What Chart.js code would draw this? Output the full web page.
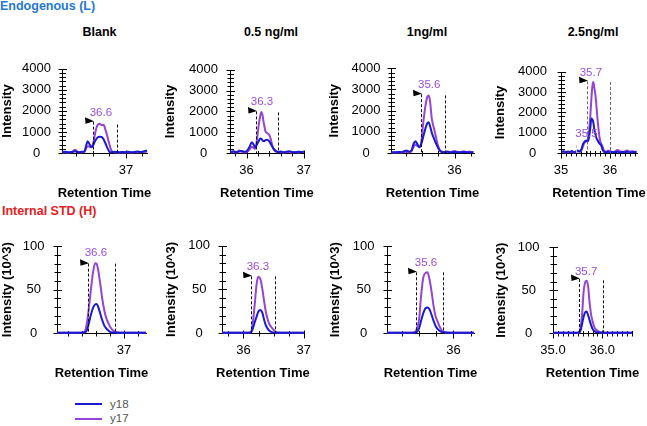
<!DOCTYPE html>
<html><head><meta charset="utf-8">
<script src="https://cdn.jsdelivr.net/npm/chart.js@4.4.1/dist/chart.umd.min.js"></script>
<style>
body{margin:0;width:647px;height:426px;position:relative;background:#fff;overflow:hidden;font-family:"Liberation Sans",Arial,sans-serif;}
canvas{position:absolute;}
.t{position:absolute;white-space:nowrap;font-weight:bold;line-height:14px;}
.ptitle{position:absolute;white-space:nowrap;font-weight:bold;font-size:12.5px;line-height:14px;color:#000;transform:translateX(-50%);}
.lg{position:absolute;height:0;border-top:2px solid;}
.lgt{position:absolute;font-size:11.5px;color:#555;line-height:13px;}
</style></head><body>
<div class="t" style="left:0;top:-1px;font-size:12.5px;color:#1f78d2">Endogenous (L)</div>
<div class="t" style="left:2px;top:204px;font-size:12.5px;color:#e4201e">Internal STD (H)</div>
<div id="titles"></div>
<div class="lg" style="left:75px;top:403px;width:27px;border-color:#1a1ad2"></div>
<div class="lg" style="left:75px;top:418px;width:27px;border-color:#9444d6"></div>
<div class="lgt" style="left:110px;top:398px">y18</div>
<div class="lgt" style="left:110px;top:412px">y17</div>
<script>
// ---------- data ----------
const concentrations = ["Blank", "0.5 ng/ml", "1ng/ml", "2.5ng/ml"];
const seriesNames = ["y18", "y17"];
const yTicksL = [0, 1000, 2000, 3000, 4000];
const yTicksH = [0, 50, 100];

// Endogenous (L), intensity
const rtBlankL = [36.03,36.08,36.13,36.18,36.23,36.28,36.33,36.37,36.40,36.42,36.45,36.48,36.51,36.54,36.57,36.60,36.63,36.66,36.69,36.72,36.75,36.78,36.83,36.88,36.93,36.98,37.03,37.08,37.13,37.18,37.23,37.28,37.32];
const y18BlankL = [40,60,30,50,80,40,60,70,400,560,400,270,420,620,740,770,760,650,450,230,60,30,60,30,50,40,60,30,50,70,50,90,120];
const y17BlankL = [20,30,20,40,150,30,40,50,250,320,300,300,550,1050,1330,1390,1330,1340,1100,770,400,120,30,20,30,20,30,20,30,40,30,50,60];

const rt05L = [35.72,35.77,35.82,35.87,35.92,35.97,36.02,36.06,36.09,36.12,36.15,36.18,36.21,36.24,36.26,36.28,36.30,36.33,36.36,36.39,36.42,36.45,36.48,36.52,36.56,36.60,36.65,36.70,36.75,36.80,36.85,36.90,36.95,37.0];
const y1805L = [50,80,40,70,100,60,150,350,520,420,270,400,560,700,680,600,560,620,640,580,450,300,180,80,50,70,40,60,80,50,40,60,50,70];
const y1705L = [30,50,30,120,50,40,80,200,300,250,200,600,1300,1800,1970,1800,1450,1050,950,900,700,350,150,60,40,50,30,40,50,30,40,30,40,50];

const rt1L = [35.03,35.08,35.13,35.18,35.22,35.26,35.30,35.34,35.37,35.40,35.43,35.46,35.49,35.52,35.55,35.58,35.60,35.62,35.65,35.68,35.71,35.74,35.77,35.80,35.84,35.89,35.94,35.99,36.04,36.09,36.14,36.19,36.24,36.29];
const y181L = [40,30,50,40,80,120,60,150,450,560,400,270,450,800,1150,1400,1450,1300,950,700,480,280,120,50,40,60,30,50,40,30,50,40,30,40];
const y171L = [20,20,30,20,50,60,30,100,300,400,320,300,600,1500,2200,2650,2720,2500,1600,1200,800,400,150,80,40,70,30,100,60,40,80,50,60,40];

const rt25L = [35.02,35.06,35.10,35.14,35.18,35.22,35.26,35.30,35.34,35.38,35.42,35.45,35.48,35.51,35.54,35.57,35.60,35.62,35.64,35.66,35.68,35.70,35.72,35.74,35.76,35.79,35.82,35.85,35.88,35.92,35.96,36.00,36.05,36.10,36.15,36.20,36.25,36.30,36.35,36.40,36.45,36.50,36.54];
const y1825L = [60,90,40,80,50,100,30,70,120,80,200,450,560,600,560,750,1300,1700,1650,1500,1150,950,750,650,560,450,380,150,50,40,60,30,50,40,60,30,50,40,60,30,50,40,50];
const y1725L = [40,60,30,50,40,80,20,50,80,60,150,350,500,600,650,1000,1900,2700,3300,3500,3200,2900,2400,1800,1300,700,450,300,100,60,120,90,50,80,150,90,60,80,120,70,90,60,80];

// Internal STD (H), intensity in 10^3
const rtBlankH = [36.05,36.15,36.25,36.35,36.40,36.44,36.47,36.50,36.53,36.56,36.59,36.61,36.63,36.66,36.69,36.72,36.75,36.78,36.81,36.85,36.90,37.0,37.1,37.2,37.31];
const y18BlankH = [0.3,0.3,0.3,0.3,0.4,0.8,2.5,11,21,29,33,33.5,31,23,15,8.5,5,2.5,1,0.5,0.4,0.3,0.3,0.3,0.3];
const y17BlankH = [0.3,0.3,0.3,0.4,0.6,1.5,10,28,50,70,80.5,80,74,58,40,26,16.5,11,6,2.5,0.8,0.4,0.3,0.3,0.3];

const rt05H = [35.65,35.75,35.85,35.95,36.05,36.10,36.13,36.16,36.19,36.22,36.25,36.28,36.31,36.34,36.37,36.40,36.43,36.46,36.49,36.53,36.58,36.65,36.75,36.85,37.0];
const y1805H = [0.3,0.3,0.3,0.3,0.3,0.4,1,6,13,19,25,26.5,24,16,9,5,2.5,1.2,0.6,0.4,0.3,0.3,0.3,0.3,0.3];
const y1705H = [0.3,0.3,0.3,0.3,0.3,0.5,2,14,35,57,64.5,62,52,38,25,16,10,7,4.5,1.5,0.5,0.3,0.3,0.3,0.3];

const rt1H = [35.03,35.13,35.23,35.33,35.40,35.44,35.47,35.50,35.53,35.56,35.59,35.62,35.65,35.68,35.71,35.74,35.77,35.80,35.83,35.87,35.92,36.0,36.1,36.2,36.3];
const y181H = [0.3,0.3,0.3,0.3,0.3,0.5,1.5,6,15,23,28.5,29.5,27.5,21,14,8,4.5,2.5,1,0.5,0.3,0.3,0.3,0.3,0.3];
const y171H = [0.3,0.3,0.3,0.3,0.3,1,6,17,45,64,69,70,62,48,31,19,13,7,3,1.2,0.5,0.3,0.3,0.3,0.3];

const rt25H = [35.0,35.1,35.2,35.3,35.4,35.48,35.53,35.56,35.59,35.62,35.65,35.68,35.71,35.74,35.77,35.80,35.84,35.88,35.93,36.0,36.1,36.2,36.3,36.4,36.5,36.6];
const y1825H = [0.3,0.3,0.3,0.3,0.3,0.3,0.6,3,11,19,24,25,21,15,9.5,5,2,1,0.5,0.3,0.3,0.3,0.3,0.3,0.3,0.3];
const y1725H = [0.3,0.3,0.3,0.3,0.3,0.3,0.8,7,22,48,59,61,55,36,22,14,6.5,3.5,1.5,0.4,0.3,0.3,0.3,0.3,0.3,0.3];

// x tick labels per panel
const xTicksBlankL = [37], xTicks05L = [36, 37], xTicks1L = [36], xTicks25L = [35, 36];
const xTicksBlankH = [37], xTicks05H = [36, 37], xTicks1H = [36], xTicks25H = [35, 36];

// peak apex labels and integration boundaries (per panel, L row then H row)
const peakText  = ["36.6","36.3","35.6","35.7","36.6","36.3","35.6","35.7"];
const peakTextX = [36.62, 36.27, 35.61, 35.61, 36.60, 36.24, 35.60, 35.67];
const peakTextY = [1890, 2450, 3210, 3960, 93, 76, 81, 71.7];
const bndStart    = [36.50, 36.16, 35.48, 35.53, 36.49, 36.13, 35.46, 35.53];
const bndEnd      = [36.87, 36.55, 35.86, 36.00, 36.87, 36.52, 35.85, 36.02];
const bndStartTop = [1490, 2000, 2780, 3530, 80, 65, 70, 63];
const bndEndTop   = [1350, 1950, 2720, 3500, 80, 65, 70, 61.5];
const extraText = "35.5", extraTextX = 35.52, extraTextY = 920;
const minorPeakX = 35.30, minorPeakTop = 400;

// ---------- layout / style ----------
const FONT = '"Liberation Sans", Arial, sans-serif';
Chart.defaults.font.family = FONT;
const BLUE = '#1a1ad2', PURPLE = '#9444d6', LABEL = '#9a4fdc';

const panels = [
  {rt: rtBlankL, a: y18BlankL, b: y17BlankL, H:false, xmin:36.03, xmax:37.32, xt:xTicksBlankL, xMinor:0.25, box:[0,50,157,151], yW:62, yPad:11, dec:0},
  {rt: rt05L, a: y1805L, b: y1705L, H:false, xmin:35.71, xmax:37.0, xt:xTicks05L, xMinor:0.2, box:[163,50,158,151], yW:67, yPad:12, dec:0},
  {rt: rt1L, a: y181L, b: y171L, H:false, xmin:35.02, xmax:36.3, xt:xTicks1L, xMinor:0.25, box:[327,50,157,151], yW:64, yPad:10.5, dec:0},
  {rt: rt25L, a: y1825L, b: y1725L, H:false, xmin:35.0, xmax:36.55, xt:xTicks25L, xMinor:0.1, box:[493,50,154,151], yW:68, yPad:14, dec:0},
  {rt: rtBlankH, a: y18BlankH, b: y17BlankH, H:true, xmin:36.05, xmax:37.31, xt:xTicksBlankH, xMinor:0.2, box:[0,226,156,155], yW:57, yPad:12.5, dec:0},
  {rt: rt05H, a: y1805H, b: y1705H, H:true, xmin:35.645, xmax:37.0, xt:xTicks05H, xMinor:0.25, box:[164,226,157,155], yW:58, yPad:12, dec:0},
  {rt: rt1H, a: y181H, b: y171H, H:true, xmin:35.03, xmax:36.3, xt:xTicks1H, xMinor:0.25, box:[328,226,156,155], yW:59, yPad:12.5, dec:0},
  {rt: rt25H, a: y1825H, b: y1725H, H:true, xmin:35.0, xmax:36.6, xt:xTicks25H, xMinor:0.1, box:[494,226,148,155], yW:59, yPad:13.5, dec:1}
];
const titleCenters = [99.5, 271, 427, 593];

const titlesDiv = document.getElementById('titles');
concentrations.forEach((c, i) => {
  const d = document.createElement('div');
  d.className = 'ptitle';
  d.style.left = titleCenters[i] + 'px';
  d.style.top = '25px';
  d.textContent = c;
  titlesDiv.appendChild(d);
});

const decor = {
  id: 'decor',
  beforeDatasetsDraw(chart, args, o) {
    const {ctx, chartArea: a, scales: {x, y}} = chart;
    ctx.save();
    ctx.strokeStyle = '#000'; ctx.lineWidth = 1;
    ctx.beginPath();
    const ax = Math.round(a.left) + 0.5, ay = Math.round(a.bottom) + 0.5;
    ctx.moveTo(ax, Math.round(a.top)); ctx.lineTo(ax, ay);
    ctx.moveTo(ax, ay); ctx.lineTo(Math.round(a.right) + 1, ay);
    const ny = Math.round(y.max / o.yMinor);
    for (let i = 0; i <= ny; i++) {
      const v = i * o.yMinor;
      const py = Math.round(y.getPixelForValue(v)) + 0.5;
      const major = o.yMajor.some(m => Math.abs(m - v) < 1e-6);
      const L = major ? 4 : 3;
      ctx.moveTo(ax - L, py); ctx.lineTo(ax + L + 0.5, py);
    }
    const i0 = Math.ceil(x.min / o.xMinor - 1e-6), i1 = Math.floor(x.max / o.xMinor + 1e-6);
    for (let i = i0; i <= i1; i++) {
      const v = i * o.xMinor;
      const px = Math.round(x.getPixelForValue(v)) + 0.5;
      const major = o.xMajor.some(m => Math.abs(m - v) < 1e-6);
      ctx.moveTo(px, ay - (major ? 3 : 2.5)); ctx.lineTo(px, ay + (major ? 5 : 3));
    }
    ctx.stroke();
    // axis titles (drawn without width compression)
    ctx.fillStyle = '#000';
    ctx.font = 'bold 13px ' + FONT;
    ctx.textAlign = 'center'; ctx.textBaseline = 'middle';
    ctx.fillText(o.xTitle, (a.left + a.right) / 2, chart.height - 7.8);
    ctx.translate(7.8, (a.top + a.bottom) / 2);
    ctx.rotate(-Math.PI / 2);
    ctx.fillText(o.yTitle, 0, 0);
    ctx.restore();
  },
  afterDatasetsDraw(chart, args, o) {
    const {ctx, chartArea: a, scales: {x, y}} = chart;
    const k = o.k;
    ctx.save();
    const ay = a.bottom;
    const dash = (xv, top, col) => {
      const px = Math.round(x.getPixelForValue(xv)) + 0.5;
      ctx.strokeStyle = col; ctx.lineWidth = 1; ctx.setLineDash([3, 2]);
      ctx.beginPath(); ctx.moveTo(px, y.getPixelForValue(top)); ctx.lineTo(px, ay); ctx.stroke();
      return px;
    };
    const dcol = o.gray ? '#6a6a6a' : '#111';
    if (o.extra) dash(minorPeakX, minorPeakTop, '#c8c8c8');
    const lx = dash(bndStart[k], bndStartTop[k], dcol);
    dash(bndEnd[k], bndEndTop[k], dcol);
    ctx.setLineDash([]);
    const ty = y.getPixelForValue(bndStartTop[k]);
    ctx.fillStyle = '#000';
    ctx.beginPath();
    ctx.moveTo(lx - 8.5, ty - 4.5); ctx.lineTo(lx + 0.5, ty - 0.5); ctx.lineTo(lx - 8, ty + 2); ctx.closePath(); ctx.fill();
    ctx.font = '11.5px ' + FONT;
    ctx.fillStyle = LABEL; ctx.textAlign = 'center'; ctx.textBaseline = 'middle';
    ctx.fillText(peakText[k], x.getPixelForValue(peakTextX[k]), y.getPixelForValue(peakTextY[k]));
    if (o.extra) ctx.fillText(extraText, x.getPixelForValue(extraTextX), y.getPixelForValue(extraTextY));
    ctx.restore();
  }
};

panels.forEach((p, k) => {
  const [L, T, W, Hh] = p.box;
  const cv = document.createElement('canvas');
  cv.width = W; cv.height = Hh;
  cv.style.left = L + 'px'; cv.style.top = T + 'px';
  cv.style.width = W + 'px'; cv.style.height = Hh + 'px';
  document.body.appendChild(cv);
  const yMajor = p.H ? yTicksH : yTicksL;
  const xH = p.H ? (T + Hh - 333) : (T + Hh - 153);
  new Chart(cv, {
    type: 'line',
    data: {
      datasets: [
        {label: seriesNames[0], data: p.rt.map((v, i) => ({x: v, y: p.a[i]})), borderColor: BLUE, borderWidth: 2, pointRadius: 0, cubicInterpolationMode: 'monotone', clip: 4, fill: false},
        {label: seriesNames[1], data: p.rt.map((v, i) => ({x: v, y: p.b[i]})), borderColor: PURPLE, borderWidth: 2, pointRadius: 0, cubicInterpolationMode: 'monotone', clip: 4, fill: false}
      ]
    },
    options: {
      responsive: false, animation: false, devicePixelRatio: 1,
      layout: {padding: {left: 0, top: 10, right: 10, bottom: 0}},
      plugins: {
        legend: {display: false}, title: {display: false}, tooltip: {enabled: false},
        decor: {k: k, yMinor: p.H ? 10 : 200, yMajor: yMajor, xMinor: p.xMinor, xMajor: p.xt, gray: k === 3, extra: k === 3,
                xTitle: 'Retention Time', yTitle: p.H ? 'Intensity (10^3)' : 'Intensity'}
      },
      scales: {
        x: {
          type: 'linear', min: p.xmin, max: p.xmax,
          afterBuildTicks: s => { s.ticks = p.xt.map(v => ({value: v})); },
          afterFit: s => { s.height = xH; },
          grid: {display: false, drawTicks: false}, border: {display: false},
          ticks: {autoSkip: false, maxRotation: 0, padding: 10, color: '#000', font: {size: 13},
                  callback: v => p.dec ? Number(v).toFixed(1) : String(v)},
          title: {display: false}
        },
        y: {
          type: 'linear', min: 0, max: p.H ? 100 : 4000,
          afterBuildTicks: s => { s.ticks = yMajor.map(v => ({value: v})); },
          afterFit: s => { s.width = p.yW; },
          grid: {display: false, drawTicks: false}, border: {display: false},
          ticks: {crossAlign: 'center', padding: p.yPad, color: '#000', font: {size: 13}, callback: v => String(v)},
          title: {display: false}
        }
      }
    },
    plugins: [decor]
  });
});
</script>
</body></html>
